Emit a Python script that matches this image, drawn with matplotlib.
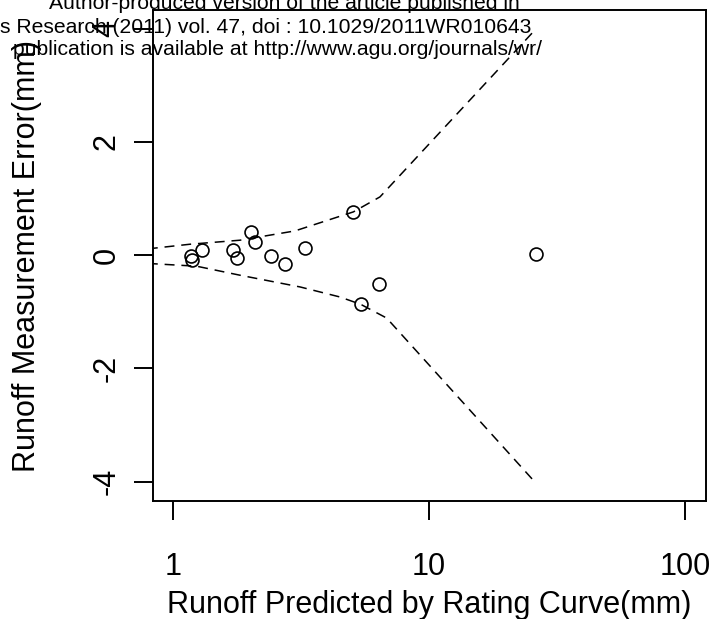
import matplotlib
matplotlib.use("Agg")
import matplotlib.pyplot as plt

plt.rcParams['font.family'] = ['Liberation Sans', 'DejaVu Sans']

# Observed points: runoff predicted by rating curve (mm) vs measurement error (mm)
pred = [1.18, 1.19, 1.30, 1.72, 1.79, 2.03, 2.10, 2.43, 2.74, 3.28, 5.07, 5.41, 6.40, 26.2]
err = [-0.02, -0.09, 0.09, 0.09, -0.05, 0.41, 0.235, -0.005, -0.147, 0.13, 0.765, -0.853, -0.50, 0.02]

# Dashed error bounds
upper_x = [0.80, 1.168, 1.83, 3.0, 5.07, 6.44, 26.2]
upper_y = [0.112, 0.194, 0.265, 0.429, 0.765, 1.03, 4.0]
lower_x = [0.80, 1.24, 1.83, 3.14, 4.49, 5.41, 6.84, 26.2]
lower_y = [-0.145, -0.194, -0.353, -0.560, -0.737, -0.866, -1.11, -4.03]

xticks = [1, 10, 100]
xticklabels = ['1', '10', '100']
yticks = [-4, -2, 0, 2, 4]
yticklabels = ['-4', '-2', '0', '2', '4']

watermark = [
    "Author-produced version of the article published in",
    "s Research (2011) vol. 47, doi : 10.1029/2011WR010643",
    "publication is available at http://www.agu.org/journals/wr/",
]

W, H = 715, 619
fig = plt.figure(figsize=(W / 100, H / 100), dpi=100)
ax = fig.add_axes([153 / W, (H - 501) / H, (706 - 153) / W, (501 - 10) / H])

ax.plot(upper_x, upper_y, color='black', lw=1.1, linestyle=(0, (6.5, 4.5)))
ax.plot(lower_x, lower_y, color='black', lw=1.1, linestyle=(0, (6.5, 4.5)))
ax.plot(pred, err, linestyle='none', marker='o', markersize=9.3,
        markerfacecolor='none', markeredgecolor='black', markeredgewidth=1.2)

ax.set_xscale('log')
ax.set_xlim(0.838, 120.5)
ax.set_ylim(-4.34, 4.33)
ax.set_xticks(xticks)
ax.set_xticklabels(xticklabels)
ax.xaxis.set_minor_locator(matplotlib.ticker.NullLocator())
ax.set_yticks(yticks)
ax.set_yticklabels(yticklabels, rotation=90, va='center')

for s in ax.spines.values():
    s.set_linewidth(1.4)
ax.tick_params(axis='both', direction='out', length=13.7, width=1.4, labelsize=22)
ax.tick_params(axis='x', pad=23)
ax.tick_params(axis='y', pad=9)

ax.set_xlabel('Runoff Predicted by Rating Curve(mm)', fontsize=22)
ax.xaxis.set_label_coords(0.5, (501 - 613) / 491)
ax.xaxis.label.set_va('baseline')
ax.set_ylabel('Runoff Measurement Error(mm)', fontsize=22)
ax.yaxis.set_label_coords((27 - 153) / 553, 0.5)
ax.yaxis.label.set_va('center')

# Watermark text overlay
fs = 15.2
fig.text(284 / W, 1 - 9 / H, watermark[0], ha='center', va='baseline', fontsize=fs, zorder=10)
fig.text(0.5 / W, 1 - 33 / H, watermark[1], ha='left', va='baseline', fontsize=fs, zorder=10)
fig.text(542 / W, 1 - 55 / H, watermark[2], ha='right', va='baseline', fontsize=fs, zorder=10)

fig.savefig('out.png', dpi=100)
